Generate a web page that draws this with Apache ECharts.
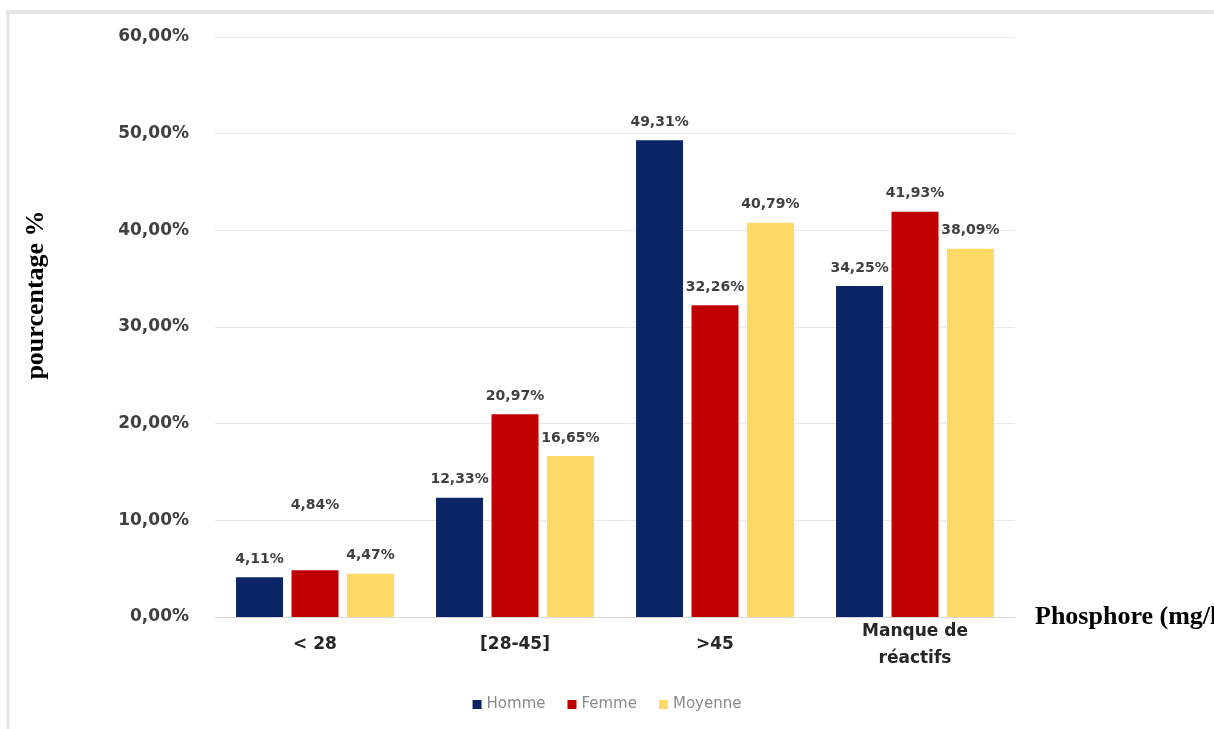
<!DOCTYPE html>
<html>
<head>
<meta charset="utf-8">
<style>
  html, body { margin: 0; padding: 0; background: #ffffff; }
  #chart { width: 1214px; height: 729px; }
</style>
<script src="https://cdn.jsdelivr.net/npm/echarts@6/dist/echarts.min.js"></script>
</head>
<body>
<div id="chart"></div>
<script>
// Phosphore groups and percentages per sex
const categories = ['< 28', '[28-45]', '>45', 'Manque de\nréactifs'];
const homme = [4.11, 12.33, 49.31, 34.25];
const femme = [4.84, 20.97, 32.26, 41.93];
const moyenne = [4.47, 16.65, 40.79, 38.09];
const yTicks = { min: 0, max: 60, interval: 10 };

const fmt = v => v.toFixed(2).replace('.', ',') + '%';

const labelStyle = {
  show: true,
  position: 'top',
  distance: 11,
  color: '#404040',
  fontFamily: 'DejaVu Sans, sans-serif',
  fontWeight: 'bold',
  fontSize: 14,
  formatter: p => fmt(p.value)
};

// the first Femme label sits higher, above the 10 % gridline
const femmeData = femme.map((v, i) => i === 0
  ? { value: v, label: { offset: [0, -47] } }
  : v);

const chart = echarts.init(document.getElementById('chart'));
chart.setOption({
  animation: false,
  backgroundColor: '#ffffff',
  grid: { left: 215, right: 199, top: 37, bottom: 112, outerBoundsMode: 'none' },
  legend: {
    bottom: 12,
    left: 'center',
    itemWidth: 9,
    itemHeight: 9,
    itemGap: 22,
    icon: 'rect',
    textStyle: { color: '#8a8a8a', fontSize: 15, fontFamily: 'DejaVu Sans, sans-serif' },
    data: ['Homme', 'Femme', 'Moyenne']
  },
  xAxis: {
    type: 'category',
    data: categories,
    name: 'Phosphore (mg/l)',
    nameLocation: 'end',
    nameGap: 20,
    nameTextStyle: {
      fontFamily: 'Liberation Serif, serif',
      fontWeight: 'bold',
      fontSize: 26,
      color: '#000000',
      verticalAlign: 'middle'
    },
    axisLine: { lineStyle: { color: '#d9d9d9', width: 1 } },
    axisTick: { show: false },
    axisLabel: {
      color: '#262626',
      fontFamily: 'DejaVu Sans, sans-serif',
      fontWeight: 'bold',
      fontSize: 17,
      lineHeight: 27,
      margin: 28,
      verticalAlign: 'middle'
    }
  },
  yAxis: {
    type: 'value',
    min: yTicks.min,
    max: yTicks.max,
    interval: yTicks.interval,
    axisLine: { show: false },
    axisTick: { show: false },
    splitLine: { lineStyle: { color: '#e8e8e8', width: 1 } },
    axisLabel: {
      margin: 26,
      color: '#404040',
      fontFamily: 'DejaVu Sans, sans-serif',
      fontWeight: 'bold',
      fontSize: 17,
      formatter: v => fmt(v)
    }
  },
  series: [
    { name: 'Homme', type: 'bar', data: homme, barWidth: 47, barGap: '18%',
      itemStyle: { color: '#0b2566' }, label: labelStyle },
    { name: 'Femme', type: 'bar', data: femmeData, barWidth: 47, barGap: '18%',
      itemStyle: { color: '#c00000' }, label: labelStyle },
    { name: 'Moyenne', type: 'bar', data: moyenne, barWidth: 47, barGap: '18%',
      itemStyle: { color: '#ffd966' }, label: labelStyle }
  ],
  graphic: [
    { type: 'line', shape: { x1: 6, y1: 12, x2: 1214, y2: 12 },
      style: { stroke: '#e6e6e6', lineWidth: 4 } },
    { type: 'line', shape: { x1: 8, y1: 12, x2: 8, y2: 729 },
      style: { stroke: '#e6e6e6', lineWidth: 3 } },
    { type: 'text', x: 36, y: 295, rotation: Math.PI / 2,
      style: {
        text: 'pourcentage %',
        fontFamily: 'Liberation Serif, serif',
        fontWeight: 'bold',
        fontSize: 26,
        fill: '#000000',
        textAlign: 'center',
        textVerticalAlign: 'middle'
      } }
  ]
});
</script>
</body>
</html>
